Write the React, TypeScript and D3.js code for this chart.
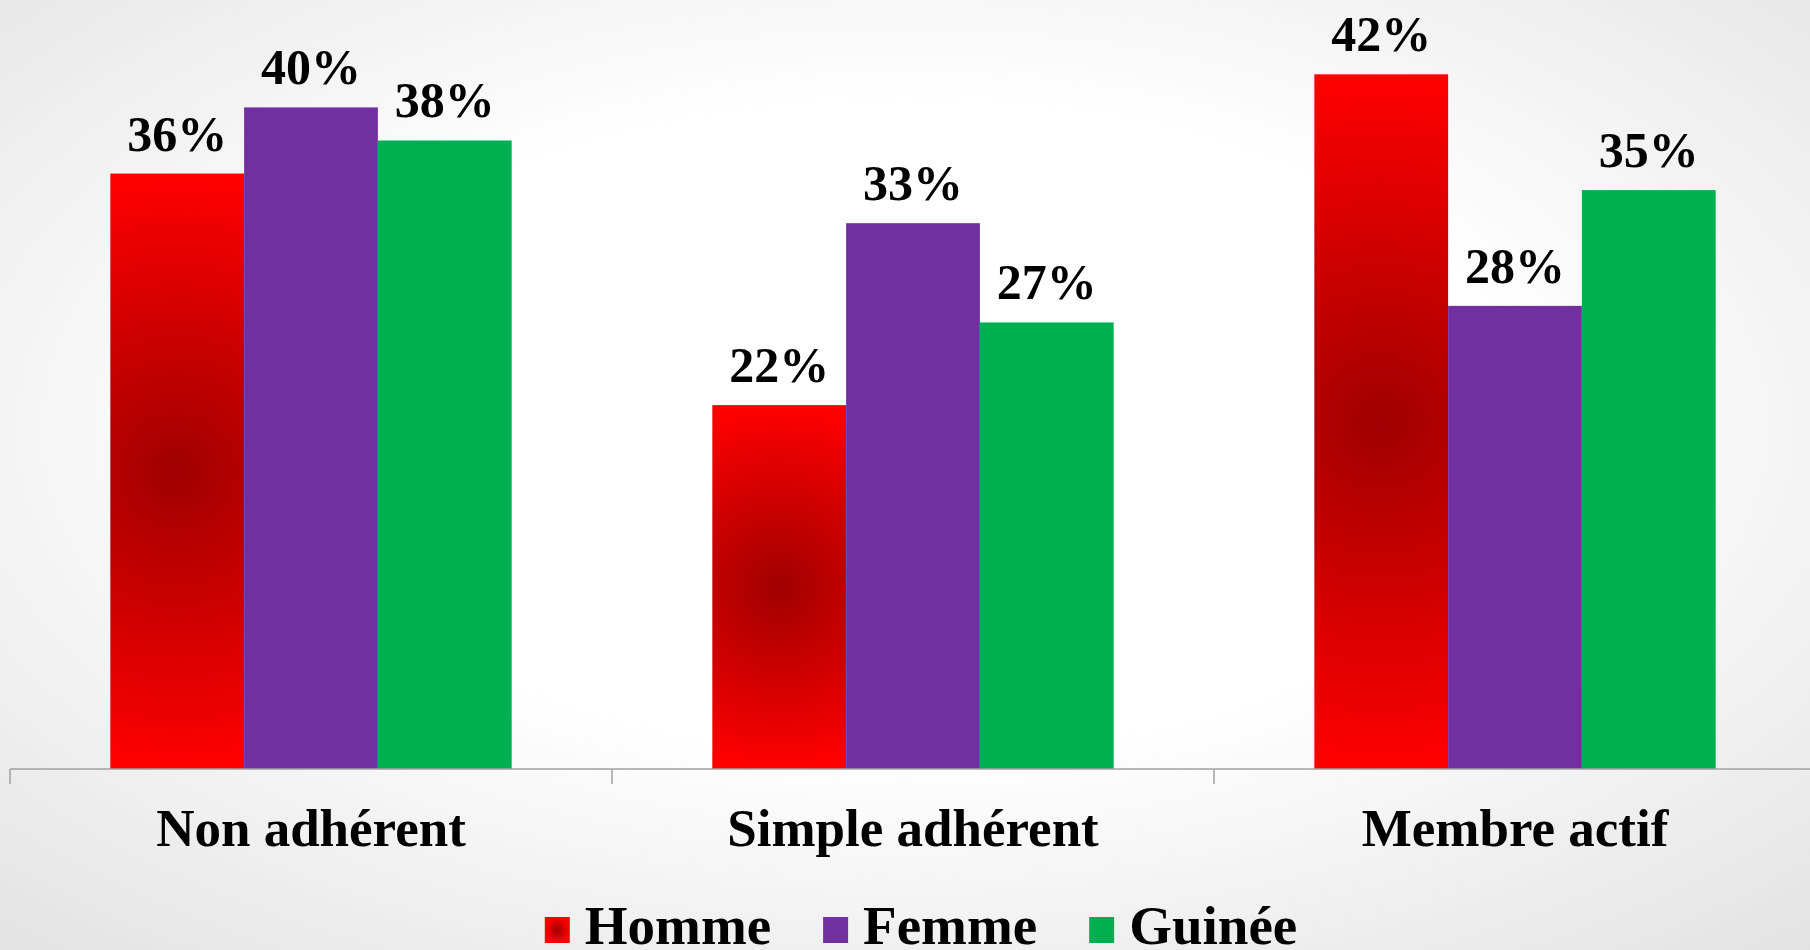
import React, { useMemo } from "react";
import * as d3 from "d3";

const categories = ["Non adhérent", "Simple adhérent", "Membre actif"];
const seriesNames = ["Homme", "Femme", "Guinée"];
const homme = [36, 22, 42];
const femme = [40, 33, 28];
const guinee = [38, 27, 35];
const seriesColors = ["#ff0000", "#7030a0", "#00b050"];

const W = 1810;
const H = 950;
const FONT = "'Liberation Serif', 'Times New Roman', serif";

function measure(text: string, size: number) {
  if (typeof document === "undefined") return text.length * size * 0.5;
  const c = document.createElement("canvas");
  const ctx = c.getContext("2d")!;
  ctx.font = `bold ${size}px 'Liberation Serif'`;
  return ctx.measureText(text).width;
}

export default function App() {
  const values = [homme, femme, guinee];
  const x0 = d3.scaleBand<string>().domain(categories).range([10, 1816]).paddingInner(0).paddingOuter(0);
  const x1 = d3
    .scaleBand<string>()
    .domain(seriesNames)
    .range([0, x0.bandwidth()])
    .paddingInner(0)
    .paddingOuter(0.75);
  const y = d3.scaleLinear().domain([0, 45]).range([769, 769 - 16.54 * 45]);
  const baseY = y(0);

  const legendFont = 55;
  const legendItems = useMemo(() => {
    const sq = 25;
    const gapText = 15;
    const gapItem = 52;
    const widths = seriesNames.map((s) => measure(s, legendFont));
    const total =
      widths.reduce((a, b) => a + b, 0) + seriesNames.length * (sq + gapText) + gapItem * (seriesNames.length - 1);
    let cx = 921 - total / 2;
    return seriesNames.map((s, i) => {
      const item = { name: s, x: cx, color: seriesColors[i], tx: cx + sq + gapText };
      cx += sq + gapText + widths[i] + gapItem;
      return item;
    });
  }, []);

  return (
    <svg width={W} height={H} style={{ position: "absolute", left: 0, top: 0, display: "block" }}>
      <defs>
        <radialGradient id="bg" cx="50%" cy="45%" r="75%">
          <stop offset="0%" stopColor="#ffffff" />
          <stop offset="45%" stopColor="#ffffff" />
          <stop offset="100%" stopColor="#e2e2e2" />
        </radialGradient>
        {categories.map((c, i) => {
          const top = y(homme[i]);
          const cy = (top + baseY) / 2;
          const cxp = (x0(c) ?? 0) + (x1("Homme") ?? 0) + x1.bandwidth() / 2;
          return (
            <radialGradient
              key={c}
              id={`hg${i}`}
              gradientUnits="userSpaceOnUse"
              cx={cxp}
              cy={cy}
              r={(baseY - top) / 2}
            >
              <stop offset="0%" stopColor="#a00000" />
              <stop offset="100%" stopColor="#ff0000" />
            </radialGradient>
          );
        })}
        <radialGradient id="legH" cx="50%" cy="50%" r="50%">
          <stop offset="0%" stopColor="#a00000" />
          <stop offset="100%" stopColor="#ff0000" />
        </radialGradient>
      </defs>
      <rect x={0} y={0} width={W} height={H} fill="url(#bg)" />

      {categories.map((c, ci) =>
        seriesNames.map((s, si) => {
          const v = values[si][ci];
          const bx = (x0(c) ?? 0) + (x1(s) ?? 0);
          const by = y(v);
          const fill = si === 0 ? `url(#hg${ci})` : seriesColors[si];
          return (
            <g key={c + s}>
              <rect x={bx} y={by} width={x1.bandwidth()} height={baseY - by} fill={fill} />
              <text
                x={bx + x1.bandwidth() / 2}
                y={by - 23}
                textAnchor="middle"
                fontFamily={FONT}
                fontWeight="bold"
                fontSize={50}
                fill="#000"
              >
                {v}%
              </text>
            </g>
          );
        })
      )}

      <line x1={10} x2={W} y1={baseY} y2={baseY} stroke="#a0a0a0" strokeWidth={1.5} />
      {categories.map((c) => (
        <line key={c} x1={x0(c)} x2={x0(c)} y1={baseY} y2={baseY + 15} stroke="#a0a0a0" strokeWidth={1.5} />
      ))}
      {categories.map((c) => (
        <text
          key={c}
          x={(x0(c) ?? 0) + x0.bandwidth() / 2}
          y={846}
          textAnchor="middle"
          fontFamily={FONT}
          fontWeight="bold"
          fontSize={53}
          fill="#000"
        >
          {c}
        </text>
      ))}

      {legendItems.map((it, i) => (
        <g key={it.name}>
          <rect x={it.x} y={917} width={25} height={26} fill={i === 0 ? "url(#legH)" : it.color} />
          <text x={it.tx} y={944} fontFamily={FONT} fontWeight="bold" fontSize={legendFont} fill="#000">
            {it.name}
          </text>
        </g>
      ))}
    </svg>
  );
}
